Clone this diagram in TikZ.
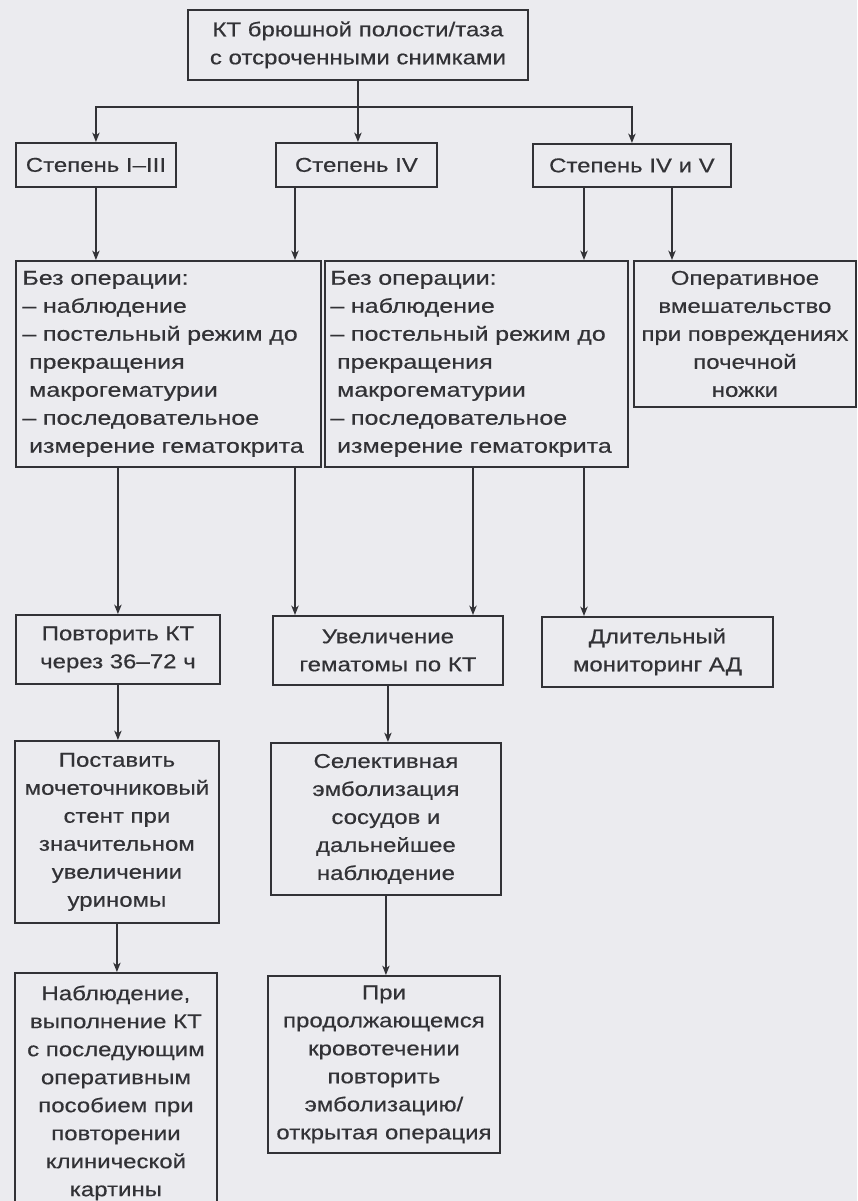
\documentclass[tikz,border=0pt]{standalone}
\usepackage{fontspec}
\setmainfont{Liberation Sans}[FakeStretch=1.2,FakeBold=0.4]
\newfontfamily\listfont{Liberation Sans}[FakeStretch=1.25,FakeBold=0.4]
\usetikzlibrary{arrows.meta}

\definecolor{pagegray}{RGB}{235,235,239}
\definecolor{ink}{RGB}{50,50,54}

\tikzset{every picture/.style={line width=0.75pt}}
\tikzset{
  box/.style={draw=ink, line width=1.4pt, text=ink, inner sep=3pt, anchor=north west,
    align=center, font=\fontsize{15}{21}\selectfont},
  listbox/.style={box, align=left, inner xsep=4pt, text width=219pt,
    font=\fontsize{15}{21}\selectfont\listfont},
  link/.style={draw=ink, line width=1.2pt, -{Stealth[length=7pt,width=5.5pt,inset=2pt]}},
}

\begin{document}
\begin{tikzpicture}[x=0.75pt,y=0.75pt,yscale=-1,xscale=1]
%set diagram to 857 x 1201
\clip (0,0) rectangle (857,1201);
\fill[pagegray] (0,0) rectangle (857,1201);

%Shape: Rectangle [top]
\node[box, minimum width=255pt, minimum height=52.5pt] (top) at (187,9) {КТ брюшной полости/таза\\с отсроченными снимками};
%Shape: Rectangle [grades]
\node[box, minimum width=120pt, minimum height=33pt] (st13) at (15,142) {Степень I–III};
\node[box, minimum width=120.75pt, minimum height=33pt] (st4) at (275,142) {Степень IV};
\node[box, minimum width=148.5pt, minimum height=32.25pt] (st45) at (532,143) {Степень IV и V};
%Shape: Rectangle [treatment]
\node[listbox, minimum width=228.75pt, minimum height=154.5pt] (box1) at (15,260) {Без операции:\\– наблюдение\\– постельный режим до\\\hspace*{5pt}прекращения\\\hspace*{5pt}макрогематурии\\– последовательное\\\hspace*{5pt}измерение гематокрита};
\node[listbox, minimum width=227.25pt, minimum height=154.5pt] (box2) at (324,260) {Без операции:\\– наблюдение\\– постельный режим до\\\hspace*{5pt}прекращения\\\hspace*{5pt}макрогематурии\\– последовательное\\\hspace*{5pt}измерение гематокрита};
\node[box, minimum width=166.5pt, minimum height=109.5pt] (oper) at (633,260) {Оперативное\\вмешательство\\при повреждениях\\почечной\\ножки};
%Shape: Rectangle [follow-up]
\node[box, minimum width=153pt, minimum height=51.75pt] (povt) at (15,614) {Повторить КТ\\через 36–72 ч};
\node[box, minimum width=172.5pt, minimum height=51.75pt] (uvel) at (272,615) {Увеличение\\гематомы по КТ};
\node[box, minimum width=173.25pt, minimum height=52.5pt] (dlit) at (541,616) {Длительный\\мониторинг АД};
\node[box, minimum width=153pt, minimum height=136.5pt] (post) at (14,740) {Поставить\\мочеточниковый\\стент при\\значительном\\увеличении\\уриномы};
\node[box, minimum width=172.5pt, minimum height=114pt] (sel) at (270,742) {Селективная\\эмболизация\\сосудов и\\дальнейшее\\наблюдение};
\node[box, minimum width=151.5pt, minimum height=180pt] (nabl) at (14,972) {Наблюдение,\\выполнение КТ\\с последующим\\оперативным\\пособием при\\повторении\\клинической\\картины};
\node[box, minimum width=174pt, minimum height=132.75pt] (pri) at (267,975) {При\\продолжающемся\\кровотечении\\повторить\\эмболизацию/\\открытая операция};

%Connectors
\coordinate (split) at (357,107);
\coordinate (c1) at (295,0);
\coordinate (c2) at (473,0);
\coordinate (c3) at (584,0);
\coordinate (c4) at (672,0);
\draw[link] (top.south) -- (top.south |- st4.north);
\draw[link] (split) -| (st13.north);
\draw[link] (split) -| (st45.north);
\draw[link] (st13.south) -- (st13.south |- box1.north);
\draw[link] (c1 |- st4.south) -- (c1 |- box1.north);
\draw[link] (c3 |- st45.south) -- (c3 |- box2.north);
\draw[link] (c4 |- st45.south) -- (c4 |- oper.north);
\draw[link] (box1.south -| povt.north) -- (povt.north);
\draw[link] (c1 |- box1.south) -- (c1 |- uvel.north);
\draw[link] (c2 |- box2.south) -- (c2 |- uvel.north);
\draw[link] (c3 |- box2.south) -- (c3 |- dlit.north);
\draw[link] (povt.south) -- (povt.south |- post.north);
\draw[link] (uvel.south) -- (uvel.south |- sel.north);
\draw[link] (post.south) -- (post.south |- nabl.north);
\draw[link] (sel.south) -- (sel.south |- pri.north);

\end{tikzpicture}
\end{document}
